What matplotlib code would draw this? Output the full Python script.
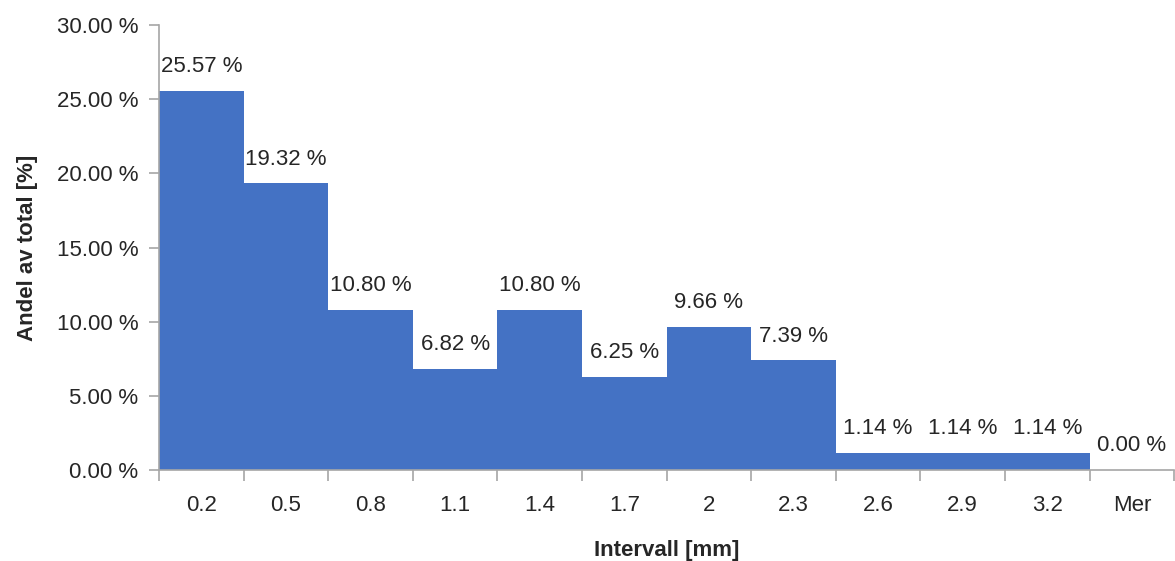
import matplotlib.pyplot as plt
import numpy as np

categories = ['0.2', '0.5', '0.8', '1.1', '1.4', '1.7', '2', '2.3', '2.6', '2.9', '3.2', 'Mer']
shares = [25.57, 19.32, 10.80, 6.82, 10.80, 6.25, 9.66, 7.39, 1.14, 1.14, 1.14, 0.00]

plt.rcParams['font.family'] = ['Liberation Sans', 'DejaVu Sans']
text_col = '#262626'
axis_col = '#a6a6a6'

fig = plt.figure(figsize=(11.75, 5.61), dpi=100)
ax = fig.add_axes([0.1353, 0.1622, 0.864, 0.7932])

x = np.arange(len(categories))
ax.bar(x, shares, width=1.0, color='#4472C4', linewidth=0)

for xi, v in zip(x, shares):
    ax.annotate(f'{v:.2f} %', (xi, v), xytext=(0, 10), textcoords='offset points',
                ha='center', va='bottom', fontsize=16, color=text_col)

ax.set_xlim(-0.5, len(categories) - 0.5)
ax.set_ylim(0, 30)
ax.set_yticks(np.arange(0, 31, 5))
ax.set_yticklabels([f'{t:.2f} %' for t in np.arange(0, 31, 5)])

ax.set_xticks(x)
ax.set_xticklabels(categories)
ax.set_xticks(np.arange(-0.5, len(categories)), minor=True)
ax.tick_params(axis='x', which='major', length=0, pad=18, labelsize=16, colors=text_col)
ax.tick_params(axis='x', which='minor', length=8, width=1.2, color=axis_col)
ax.tick_params(axis='y', length=7, width=1.2, color=axis_col, labelsize=16,
               labelcolor=text_col, pad=8)

for s in ['top', 'right']:
    ax.spines[s].set_visible(False)
for s in ['left', 'bottom']:
    ax.spines[s].set_color(axis_col)
    ax.spines[s].set_linewidth(1.2)

ax.set_xlabel('Intervall [mm]', fontsize=16, fontweight='bold', color=text_col, labelpad=17)
ax.set_ylabel('Andel av total [%]', fontsize=16, fontweight='bold', color=text_col, labelpad=13)

fig.savefig('out.png', dpi=100)
